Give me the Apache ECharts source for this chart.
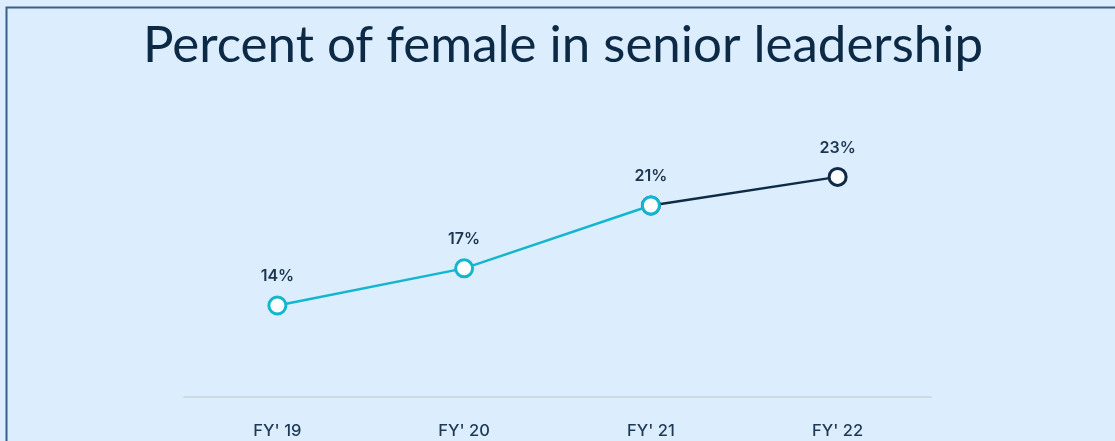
<!DOCTYPE html>
<html>
<head>
<meta charset="utf-8">
<script src="https://cdn.jsdelivr.net/npm/echarts@6/dist/echarts.min.js"></script>
<style>
  html, body { margin: 0; padding: 0; background: #dcedfd; }
  #chart { width: 1115px; height: 441px; }
</style>
</head>
<body>
<div id="chart"></div>
<script>
const years = ["FY' 19", "FY' 20", "FY' 21", "FY' 22"];
const femalePct = [14, 16.6, 21, 23];
// index where the line switches to the dark colour
const splitAt = 2;

const cyan = '#14b6cf';
const navy = '#0e2a44';

const earlyPart = femalePct.map((v, i) => (i <= splitAt ? v : '-'));
const latePart = femalePct.map((v, i) => (i >= splitAt ? v : '-'));

const chart = echarts.init(document.getElementById('chart'));

chart.setOption({
  backgroundColor: '#dcedfd',
  title: {
    text: 'Percent of female in senior leadership',
    left: 138,
    top: 15,
    textStyle: { fontFamily: 'Lato', fontWeight: 'normal', fontSize: 51, color: '#0c2a45' }
  },
  graphic: [{
    type: 'rect',
    shape: { x: 6.5, y: 7.5, width: 1200, height: 500 },
    style: { fill: 'none', stroke: '#3d5e88', lineWidth: 2 }
  }],
  grid: { left: 184, right: 184, top: 134, bottom: 44 },
  xAxis: {
    type: 'category',
    data: years,
    boundaryGap: true,
    axisLine: { lineStyle: { color: '#cfd9e2', width: 2 } },
    axisTick: { show: false },
    axisLabel: { margin: 26, fontFamily: 'Inter', fontWeight: 500, fontSize: 16.5, color: '#1c3a56' }
  },
  yAxis: {
    type: 'value',
    min: 7.6,
    max: 26,
    show: false,
    splitLine: { show: false }
  },
  series: [
    {
      type: 'line',
      data: latePart,
      z: 2,
      symbol: 'circle',
      symbolSize: 17,
      lineStyle: { color: navy, width: 2.5 },
      itemStyle: { color: '#ffffff', borderColor: navy, borderWidth: 3 },
      label: {
        show: true, position: 'top', distance: 11,
        formatter: p => (p.dataIndex > splitAt ? Math.round(p.value) + '%' : ''),
        fontFamily: 'Inter', fontWeight: 600, fontSize: 16, color: '#1b3550'
      }
    },
    {
      type: 'line',
      data: earlyPart,
      z: 3,
      symbol: 'circle',
      symbolSize: 17,
      lineStyle: { color: cyan, width: 2.5 },
      itemStyle: { color: '#ffffff', borderColor: cyan, borderWidth: 3 },
      label: {
        show: true, position: 'top', distance: 11,
        formatter: p => Math.round(p.value) + '%',
        fontFamily: 'Inter', fontWeight: 600, fontSize: 16, color: '#1b3550'
      }
    }
  ]
});
</script>
</body>
</html>
